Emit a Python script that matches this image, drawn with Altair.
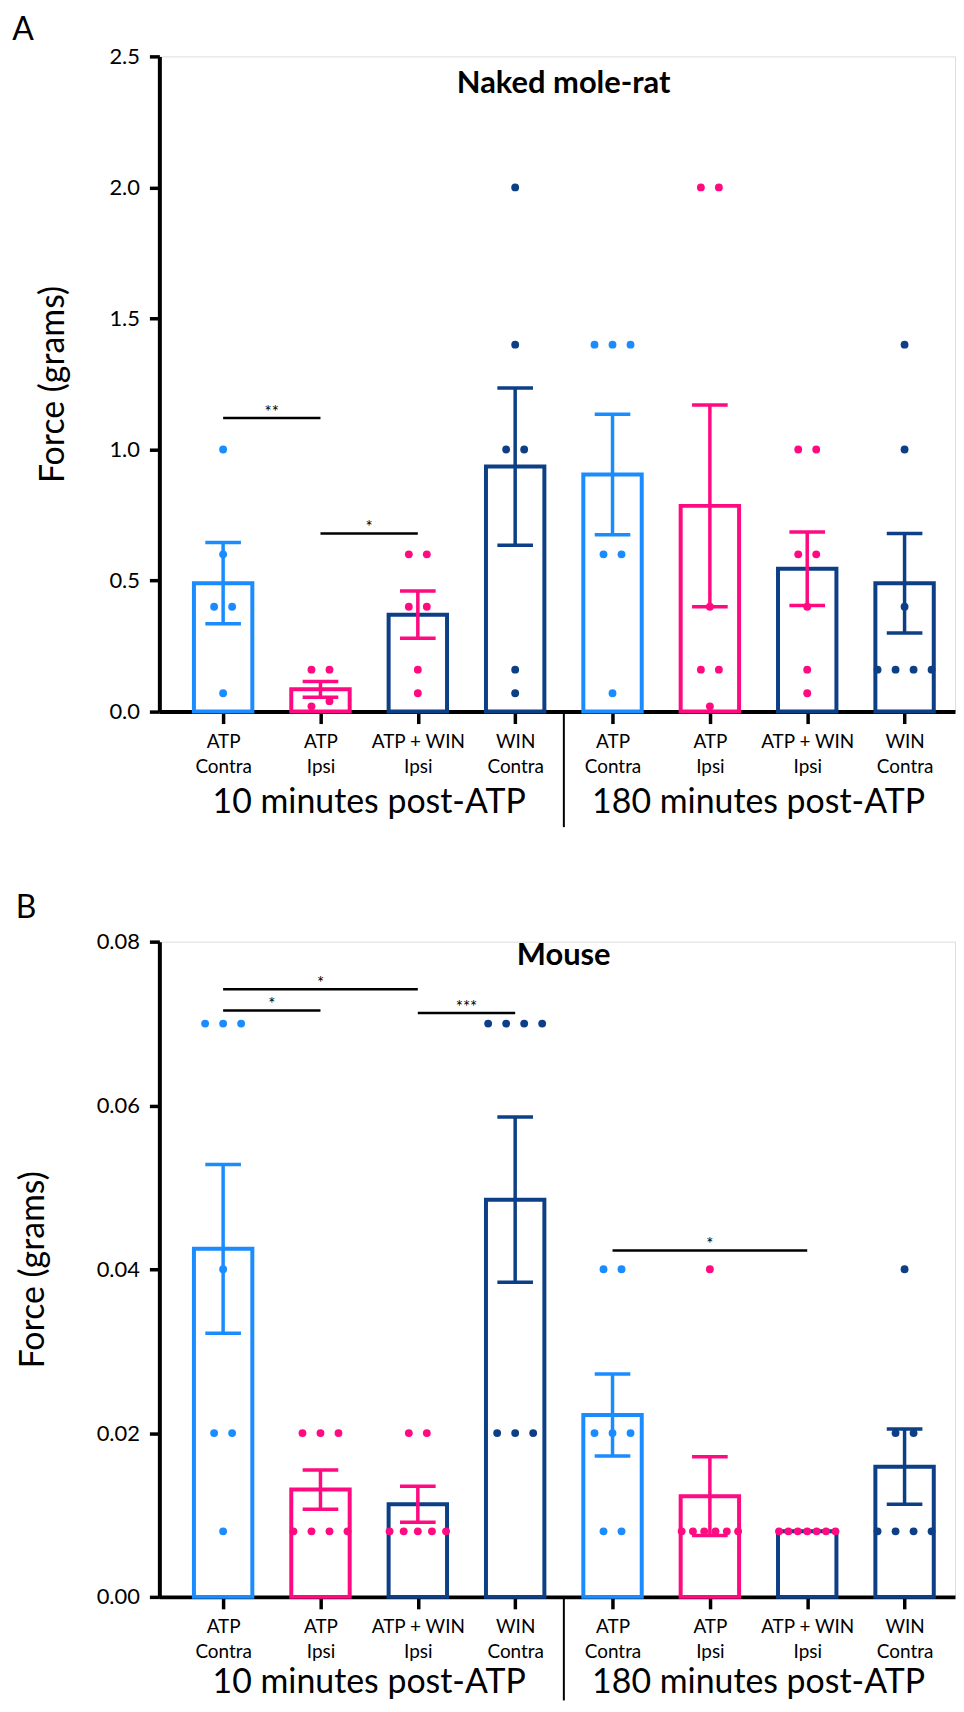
import json
import altair as alt
import pandas as pd

# ---------------- data ----------------
label_lines = [["ATP", "Contra"], ["ATP", "Ipsi"], ["ATP + WIN", "Ipsi"], ["WIN", "Contra"]]
timepoints = ["10 minutes post-ATP", "180 minutes post-ATP"]
bar_colour_key = ["ATP Contra", "ATP Ipsi", "WIN", "WIN"]
point_colour_key = ["ATP Contra", "ATP Ipsi", "ATP Ipsi", "WIN"]
colour_domain = ["ATP Contra", "ATP Ipsi", "WIN"]
colour_range = ["#1A8CFF", "#FF0A80", "#0D3F86"]

nmr_means = [0.49, 0.085, 0.37, 0.935, 0.905, 0.785, 0.545, 0.49]
nmr_sems = [0.155, 0.03, 0.09, 0.30, 0.23, 0.385, 0.14, 0.19]
nmr_dots = [
    [1.0, 0.6, 0.4, 0.4, 0.07],
    [0.16, 0.16, 0.04, 0.02],
    [0.6, 0.6, 0.4, 0.4, 0.16, 0.07],
    [2.0, 1.4, 1.0, 1.0, 0.16, 0.07],
    [1.4, 1.4, 1.4, 0.6, 0.6, 0.07],
    [2.0, 2.0, 0.4, 0.16, 0.16, 0.02],
    [1.0, 1.0, 0.6, 0.6, 0.4, 0.16, 0.07],
    [1.4, 1.0, 0.4, 0.16, 0.16, 0.16, 0.16],
]
nmr_sig_from = [0, 1]
nmr_sig_to = [1, 2]
nmr_sig_y = [1.12, 0.68]
nmr_sig_text = ["**", "*"]

mouse_means = [0.0425, 0.0131, 0.0113, 0.0485, 0.0222, 0.0123, 0.008, 0.0159]
mouse_sems = [0.0103, 0.0024, 0.0022, 0.0101, 0.005, 0.0048, 0.0, 0.0046]
mouse_dots = [
    [0.07, 0.07, 0.07, 0.04, 0.02, 0.02, 0.008],
    [0.02, 0.02, 0.02, 0.008, 0.008, 0.008, 0.008],
    [0.02, 0.02, 0.008, 0.008, 0.008, 0.008, 0.008],
    [0.07, 0.07, 0.07, 0.07, 0.02, 0.02, 0.02],
    [0.04, 0.04, 0.02, 0.02, 0.02, 0.008, 0.008],
    [0.04, 0.008, 0.008, 0.008, 0.008, 0.008, 0.008],
    [0.008, 0.008, 0.008, 0.008, 0.008, 0.008, 0.008],
    [0.04, 0.02, 0.02, 0.008, 0.008, 0.008, 0.008],
]
mouse_sig_from = [0, 0, 2, 4]
mouse_sig_to = [1, 2, 3, 6]
mouse_sig_y = [0.0716, 0.0742, 0.0713, 0.0423]
mouse_sig_text = ["*", "*", "***", "*"]

# ---------------- layout constants ----------------
W, H = 799, 658
PX_PER_CAT = 97.76
X_MIN = -0.655
FONT = "Lato"
BAR_HALF = 0.3
CAP_HALF = 0.183
n_cat = len(label_lines) * len(timepoints)
all_lines = label_lines * len(timepoints)

colour_scale = alt.Scale(domain=colour_domain, range=colour_range)
x_scale = alt.Scale(domain=[X_MIN, X_MIN + W / PX_PER_CAT], nice=False, zero=False)


def swarm(values, tol, step=0.185, span=0.58):
    order = sorted(range(len(values)), key=lambda i: values[i])
    clusters = []
    for i in order:
        if clusters and values[i] - values[clusters[-1][-1]] <= tol:
            clusters[-1].append(i)
        else:
            clusters.append([i])
    offs = [0.0] * len(values)
    for c in clusters:
        n = len(c)
        s = step if n < 2 else min(step, span / (n - 1))
        for k, i in enumerate(c):
            offs[i] = (k - (n - 1) / 2) * s
    return offs


def panel(means, sems, dots, sig_from, sig_to, sig_y, sig_text, ymax, ystep, fmt,
          tol, title, title_y, letter, letter_x, letter_y, ytitle_x, div_len, grp_y):
    nticks = int(round(ymax / ystep)) + 1
    y_axis = alt.Axis(values=[round(i * ystep, 4) for i in range(nticks)], format=fmt,
                      grid=False, domainColor="black", domainWidth=4, tickColor="black",
                      tickWidth=3.5, tickSize=10, labelFont=FONT, labelFontSize=22,
                      labelColor="black", labelPadding=10, title="Force (grams)",
                      titleFont=FONT, titleFontSize=34, titleFontWeight="normal",
                      titleColor="black", titleX=ytitle_x, titleY=H / 2,
                      titleBaseline="middle", titleAlign="center", titleAngle=270)
    label_expr = json.dumps(all_lines) + "[round(datum.value)]"
    x_axis = alt.Axis(values=list(range(n_cat)), labelExpr=label_expr, grid=False,
                      domainColor="black", domainWidth=4, tickColor="black",
                      tickWidth=3.5, tickSize=12, labelFont=FONT, labelFontSize=19,
                      labelColor="black", labelLineHeight=25, labelPadding=9,
                      labelAngle=0, labelOverlap=False, labelBound=False,
                      labelFlush=False, title=None)
    y_scale = alt.Scale(domain=[0, ymax], nice=False, zero=True)

    rows = []
    for i in range(n_cat):
        rows.append({"idx": i, "lo": i - BAR_HALF, "hi": i + BAR_HALF, "mean": means[i],
                     "elo": means[i] - sems[i], "ehi": means[i] + sems[i],
                     "clo": i - CAP_HALF, "chi": i + CAP_HALF, "sem": sems[i],
                     "bkey": bar_colour_key[i % 4], "pkey": point_colour_key[i % 4]})
    bars_df = pd.DataFrame(rows)
    err_df = bars_df[bars_df["sem"] > 0]

    pts = []
    for i, vals in enumerate(dots):
        offs = swarm(vals, tol)
        for v, o in zip(vals, offs):
            pts.append({"x": i + o, "v": v, "pkey": point_colour_key[i % 4]})
    pts_df = pd.DataFrame(pts)

    sig_df = pd.DataFrame({"a": sig_from, "b": sig_to, "y": sig_y, "t": sig_text})
    sig_df["m"] = (sig_df["a"] + sig_df["b"]) / 2

    bars = alt.Chart(bars_df).mark_bar(fill="white", strokeWidth=4).encode(
        x=alt.X("lo:Q", scale=x_scale, axis=x_axis),
        x2="hi:Q",
        y=alt.Y("mean:Q", scale=y_scale, axis=y_axis),
        y2=alt.datum(0),
        stroke=alt.Stroke("bkey:N", scale=colour_scale, legend=None),
    )
    err_v = alt.Chart(err_df).mark_rule(strokeWidth=3.5).encode(
        x=alt.X("idx:Q", scale=x_scale, axis=x_axis),
        y=alt.Y("elo:Q", scale=y_scale, axis=y_axis),
        y2="ehi:Q",
        color=alt.Color("pkey:N", scale=colour_scale, legend=None),
    )
    cap_hi = alt.Chart(err_df).mark_rule(strokeWidth=3.5).encode(
        x=alt.X("clo:Q", scale=x_scale, axis=x_axis), x2="chi:Q",
        y=alt.Y("ehi:Q", scale=y_scale, axis=y_axis),
        color=alt.Color("pkey:N", scale=colour_scale, legend=None),
    )
    cap_lo = alt.Chart(err_df).mark_rule(strokeWidth=3.5).encode(
        x=alt.X("clo:Q", scale=x_scale, axis=x_axis), x2="chi:Q",
        y=alt.Y("elo:Q", scale=y_scale, axis=y_axis),
        color=alt.Color("pkey:N", scale=colour_scale, legend=None),
    )
    points = alt.Chart(pts_df).mark_circle(size=62, opacity=1).encode(
        x=alt.X("x:Q", scale=x_scale, axis=x_axis),
        y=alt.Y("v:Q", scale=y_scale, axis=y_axis),
        color=alt.Color("pkey:N", scale=colour_scale, legend=None),
    )
    sig_lines = alt.Chart(sig_df).mark_rule(strokeWidth=2.5, color="black").encode(
        x=alt.X("a:Q", scale=x_scale, axis=x_axis), x2="b:Q",
        y=alt.Y("y:Q", scale=y_scale, axis=y_axis),
    )
    sig_txt = alt.Chart(sig_df).mark_text(font=FONT, fontSize=17, baseline="alphabetic",
                                          dy=0, color="black").encode(
        x=alt.X("m:Q", scale=x_scale, axis=x_axis),
        y=alt.Y("y:Q", scale=y_scale, axis=y_axis),
        text="t:N",
    )
    title_txt = alt.Chart(pd.DataFrame({"t": [title]})).mark_text(
        font=FONT, fontSize=31, fontWeight="bold", baseline="middle", color="black"
    ).encode(x=alt.value(406), y=alt.value(title_y), text="t:N")
    letter_txt = alt.Chart(pd.DataFrame({"t": [letter]})).mark_text(
        font=FONT, fontSize=32, baseline="middle", align="center", color="black"
    ).encode(x=alt.value(letter_x), y=alt.value(letter_y), text="t:N")

    per = len(label_lines)
    grp_df = pd.DataFrame({"g": timepoints,
                           "c": [(per - 1) / 2 + k * per for k in range(len(timepoints))]})
    grp_txt = alt.Chart(grp_df).mark_text(font=FONT, fontSize=34, baseline="middle",
                                          color="black").encode(
        x=alt.X("c:Q", scale=x_scale, axis=x_axis), y=alt.value(H + grp_y), text="g:N")
    div_df = pd.DataFrame({"d": [per - 0.5 + k * per for k in range(len(timepoints) - 1)]})
    divider = alt.Chart(div_df).mark_rule(strokeWidth=2, color="black").encode(
        x=alt.X("d:Q", scale=x_scale, axis=x_axis), y=alt.value(H), y2=alt.value(H + div_len))

    return alt.layer(bars, err_v, cap_hi, cap_lo, points, sig_lines, sig_txt, title_txt,
                     letter_txt, grp_txt, divider).properties(width=W, height=H)


top = panel(nmr_means, nmr_sems, nmr_dots, nmr_sig_from, nmr_sig_to, nmr_sig_y, nmr_sig_text,
            2.5, 0.5, ".1f", 0.05, "Naked mole-rat", 28, "A", -137, -26, -106, 116, 92)
bottom = panel(mouse_means, mouse_sems, mouse_dots, mouse_sig_from, mouse_sig_to, mouse_sig_y,
               mouse_sig_text, 0.08, 0.02, ".2f", 0.004, "Mouse", 14, "B", -134, -34, -126,
               104, 87)

chart = alt.vconcat(top, bottom, spacing=231, bounds="flush").properties(
    padding={"left": 3, "top": 2, "right": 0, "bottom": 0}
).configure_view(strokeWidth=0).configure(font=FONT)

chart.save("out.html", embed_options={"renderer": "svg", "actions": False})
